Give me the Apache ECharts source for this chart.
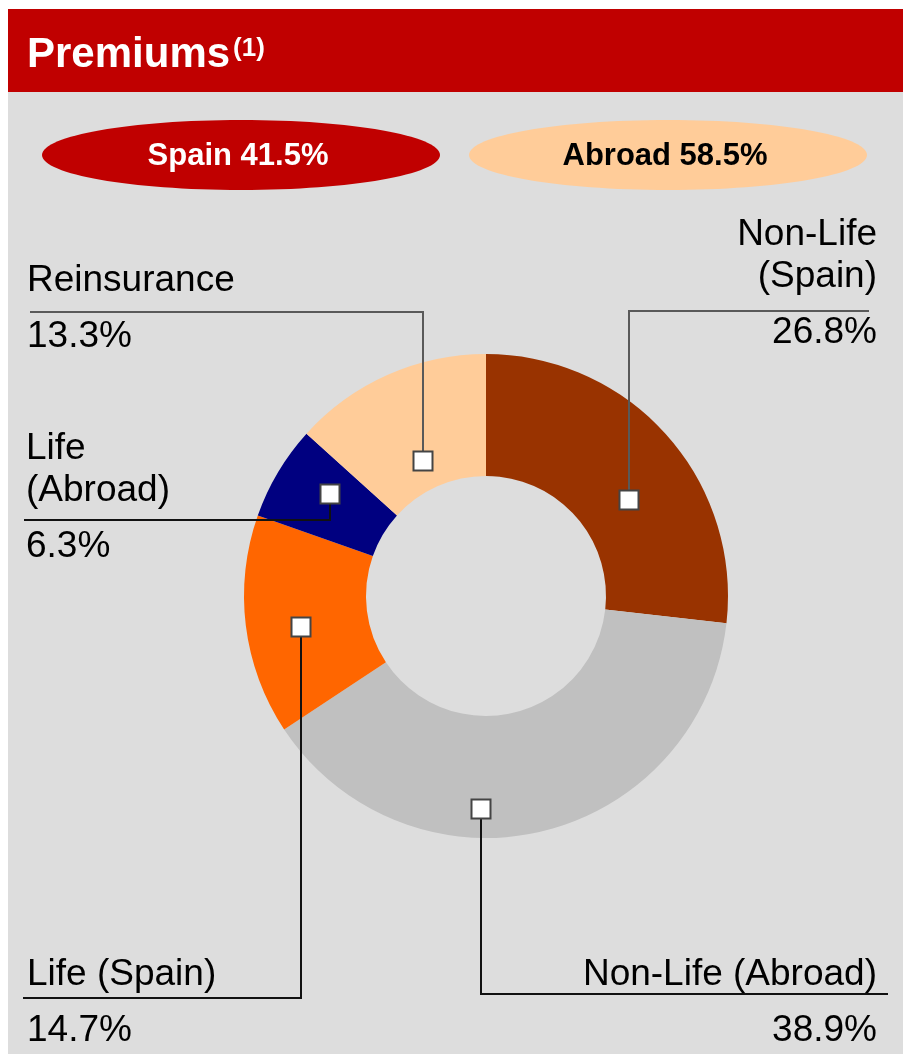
<!DOCTYPE html>
<html>
<head>
<meta charset="utf-8">
<script src="https://cdn.jsdelivr.net/npm/echarts@6/dist/echarts.min.js"></script>
<style>
  html, body { margin: 0; padding: 0; background: #fff; }
  #main { width: 903px; height: 1054px; }
</style>
</head>
<body>
<div id="main"></div>
<script>
// premiums split by business line, % of total
let segmentNames = ['Non-Life\n(Spain)', 'Non-Life (Abroad)', 'Life (Spain)', 'Life\n(Abroad)', 'Reinsurance'];
let segmentShares = [26.8, 38.9, 14.7, 6.3, 13.3];
let segmentRegion = ['Spain', 'Abroad', 'Spain', 'Abroad', 'Abroad'];
let regionNames = ['Spain', 'Abroad'];

let segmentColors = ['#993300', '#C0C0C0', '#FF6600', '#000080', '#FFCC99'];
let leaderColors = ['#595959', '#111', '#111', '#111', '#595959'];
let regionColors = [['#C00000', '#fff'], ['#FFCC99', '#000']];

// where each callout sits: marker inside the ring, elbow line y, label box
let callouts = [
    { anchor: [629, 500], lineY: 311, lineEnd: 869, x: 877, y: 214, align: 'right' },
    { anchor: [481, 809], lineY: 994, lineEnd: 888, x: 877, y: 954, align: 'right' },
    { anchor: [301, 627], lineY: 998, lineEnd: 23, x: 27, y: 954, align: 'left' },
    { anchor: [330, 494], lineY: 520, lineEnd: 24, x: 26, y: 428, align: 'left' },
    { anchor: [423, 461], lineY: 312, lineEnd: 30, x: 27, y: 260, align: 'left' }
];

let FONT = '"Liberation Sans", Arial, sans-serif';

let regionTotals = regionNames.map(function (r) {
    let s = 0;
    segmentShares.forEach(function (v, i) { if (segmentRegion[i] === r) s += v; });
    return s;
});

let ringData = segmentNames.map(function (n, i) {
    return { name: n, value: segmentShares[i], itemStyle: { color: segmentColors[i] } };
});
// same slices again, invisible, only to carry labels + leaders above the ring
let calloutData = segmentNames.map(function (n, i) {
    return {
        name: n,
        value: segmentShares[i],
        itemStyle: { color: 'rgba(0,0,0,0)' },
        labelLine: { lineStyle: { color: leaderColors[i] } }
    };
});

let graphics = [
    { type: 'rect', z: -10, shape: { x: 8, y: 92, width: 895, height: 962 }, style: { fill: '#DDDDDD' } },
    { type: 'rect', z: -10, shape: { x: 8, y: 9, width: 895, height: 83 }, style: { fill: '#C00000' } }
];
let ellipseCx = [241, 668];
regionNames.forEach(function (r, i) {
    graphics.push({
        type: 'ellipse', z: -5,
        shape: { cx: ellipseCx[i], cy: 155, rx: 199, ry: 35 },
        style: { fill: regionColors[i][0] }
    });
    graphics.push({
        type: 'text', z: -4,
        x: ellipseCx[i] - 3, y: 156,
        style: {
            text: r + ' ' + regionTotals[i].toFixed(1) + '%',
            fill: regionColors[i][1],
            font: 'bold 31px ' + FONT,
            align: 'center',
            verticalAlign: 'middle'
        }
    });
});
callouts.forEach(function (c) {
    graphics.push({
        type: 'rect', z: 100,
        shape: { x: c.anchor[0] - 9.5, y: c.anchor[1] - 9.5, width: 19, height: 19 },
        style: { fill: '#fff', stroke: '#444', lineWidth: 2 }
    });
});

let myChart = echarts.init(document.getElementById('main'));
let option = {
    backgroundColor: '#fff',
    animation: false,
    title: {
        text: '{a|Premiums}{b|(1)}',
        left: 27,
        top: 31,
        padding: 0,
        textStyle: {
            rich: {
                a: { fontFamily: FONT, fontWeight: 'bold', fontSize: 42, color: '#fff', lineHeight: 48 },
                b: { fontFamily: FONT, fontWeight: 'bold', fontSize: 26, color: '#fff', padding: [5, 0, 0, 3], verticalAlign: 'top' }
            }
        }
    },
    graphic: graphics,
    series: [
        {
            type: 'pie',
            z: 2,
            center: [486, 596],
            radius: [120, 242],
            startAngle: 90,
            clockwise: true,
            silent: true,
            label: { show: false },
            labelLine: { show: false },
            data: ringData
        },
        {
            type: 'pie',
            z: 5,
            center: [486, 596],
            radius: [120, 242],
            startAngle: 90,
            clockwise: true,
            avoidLabelOverlap: false,
            silent: true,
            data: calloutData,
            label: {
                show: true,
                position: 'outside',
                formatter: function (p) {
                    let lines = p.name.split('\n').map(function (s) { return '{n|' + s + '}'; });
                    return lines.join('\n') + '\n{s| }\n{v|' + p.value.toFixed(1) + '%}';
                },
                rich: {
                    n: { fontFamily: FONT, fontSize: 37, color: '#000', lineHeight: 42 },
                    s: { fontSize: 10, lineHeight: 14 },
                    v: { fontFamily: FONT, fontSize: 37, color: '#000', lineHeight: 42 }
                }
            },
            labelLine: {
                show: true,
                lineStyle: { width: 2 }
            },
            labelLayout: function (params) {
                let c = callouts[params.dataIndex];
                return {
                    x: c.x,
                    y: c.y,
                    align: c.align,
                    verticalAlign: 'top',
                    labelLinePoints: [c.anchor, [c.anchor[0], c.lineY], [c.lineEnd, c.lineY]]
                };
            }
        }
    ]
};
myChart.setOption(option);
</script>
</body>
</html>
